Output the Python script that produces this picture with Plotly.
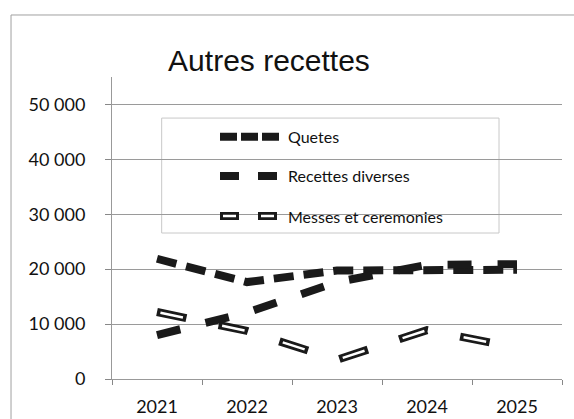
import plotly.graph_objects as go

# ---- data ----
years = ["2021", "2022", "2023", "2024", "2025"]
quetes = [21900, 17650, 19750, 19750, 19900]
recettes_diverses = [8000, 12100, 17650, 20800, 20900]
messes_ceremonies = [12200, 8750, 3500, 8900, 5700]
series_names = ["Quetes", "Recettes diverses", "Messes et ceremonies"]
y_ticks = [0, 10000, 20000, 30000, 40000, 50000]

INK = "#1a1a1a"
FONT_TICK = "Lato"

fig = go.Figure()

fig.add_trace(go.Scatter(x=years, y=quetes, mode="lines", name=series_names[0],
                         line=dict(color=INK, width=8, dash="20px,10px"), showlegend=False))
fig.add_trace(go.Scatter(x=years, y=recettes_diverses, mode="lines", name=series_names[1],
                         line=dict(color=INK, width=8, dash="24px,26px"), showlegend=False))
fig.add_trace(go.Scatter(x=years, y=messes_ceremonies, mode="lines", name=series_names[2],
                         line=dict(color=INK, width=8, dash="30px,33px"), showlegend=False))
fig.add_trace(go.Scatter(x=years, y=messes_ceremonies, mode="lines", name=series_names[2] + " (core)",
                         line=dict(color="white", width=2.5, dash="0px,3.5px,23px,36.5px"),
                         showlegend=False, hoverinfo="skip"))

# ---- manual legend (box, samples, labels) ----
shapes = []
annotations = []
shapes.append(dict(type="rect", xref="paper", yref="paper", x0=0.1104, x1=0.86, y0=0.4834, y1=0.864,
                   line=dict(color="#c8c8c8", width=1), fillcolor="white", layer="between"))
# outer frame of the chart
shapes.append(dict(type="rect", xref="paper", yref="paper", x0=-0.2244, x1=1.2, y0=-0.3, y1=1.2053,
                   line=dict(color="#a0a0a0", width=1), fillcolor="rgba(0,0,0,0)", layer="below"))

leg_y = [0.8023, 0.6722, 0.5397]
leg_x0, leg_x1 = 0.2400, 0.3800
samples = [
    [dict(color=INK, width=8, dash="17px,4px")],
    [dict(color=INK, width=8, dash="19px,19px")],
    [dict(color=INK, width=8, dash="19px,19px"),
     dict(color="white", width=2.5, dash="0px,3px,13px,22px")],
]
for name, yy, layers in zip(series_names, leg_y, samples):
    for ln in layers:
        shapes.append(dict(type="line", xref="paper", yref="paper", x0=leg_x0, x1=leg_x1, y0=yy, y1=yy,
                           line=ln, layer="above"))
    annotations.append(dict(text=name, xref="paper", yref="paper", x=0.3867, y=yy, xanchor="left",
                            yanchor="middle", showarrow=False, font=dict(family=FONT_TICK, size=16, color="#111")))

fig.update_layout(
    width=574, height=419,
    margin=dict(l=112, r=12, t=77, b=40),
    paper_bgcolor="white", plot_bgcolor="white",
    separators=", ",
    title=dict(text="Autres recettes", x=269 / 574, y=1 - 60 / 419, xanchor="center", yanchor="middle",
               xref="container", yref="container",
               font=dict(family="Liberation Sans, Arial", size=30, color="#111")),
    shapes=shapes,
    annotations=annotations,
    showlegend=False,
)

fig.update_xaxes(
    type="category", range=[-0.5, 4.5], tickson="boundaries",
    ticks="outside", ticklen=5, tickcolor="#888", showgrid=False,
    showline=True, linecolor="#999", linewidth=1, automargin=False,
    tickfont=dict(family=FONT_TICK, size=18, color="#111"),
    ticklabelstandoff=11,
)
fig.update_yaxes(
    range=[0, 55000], tickvals=y_ticks, tickformat=",d",
    ticks="outside", ticklen=6, tickcolor="#888",
    showgrid=True, gridcolor="#9a9a9a", gridwidth=1,
    showline=True, linecolor="#999", linewidth=1, zeroline=False, automargin=False,
    tickfont=dict(family=FONT_TICK, size=18, color="#111"),
    ticklabelstandoff=16,
)

fig.write_html("out.html", config={"displayModeBar": False},
               post_script="document.body.style.margin='0';document.body.style.overflow='hidden';")
